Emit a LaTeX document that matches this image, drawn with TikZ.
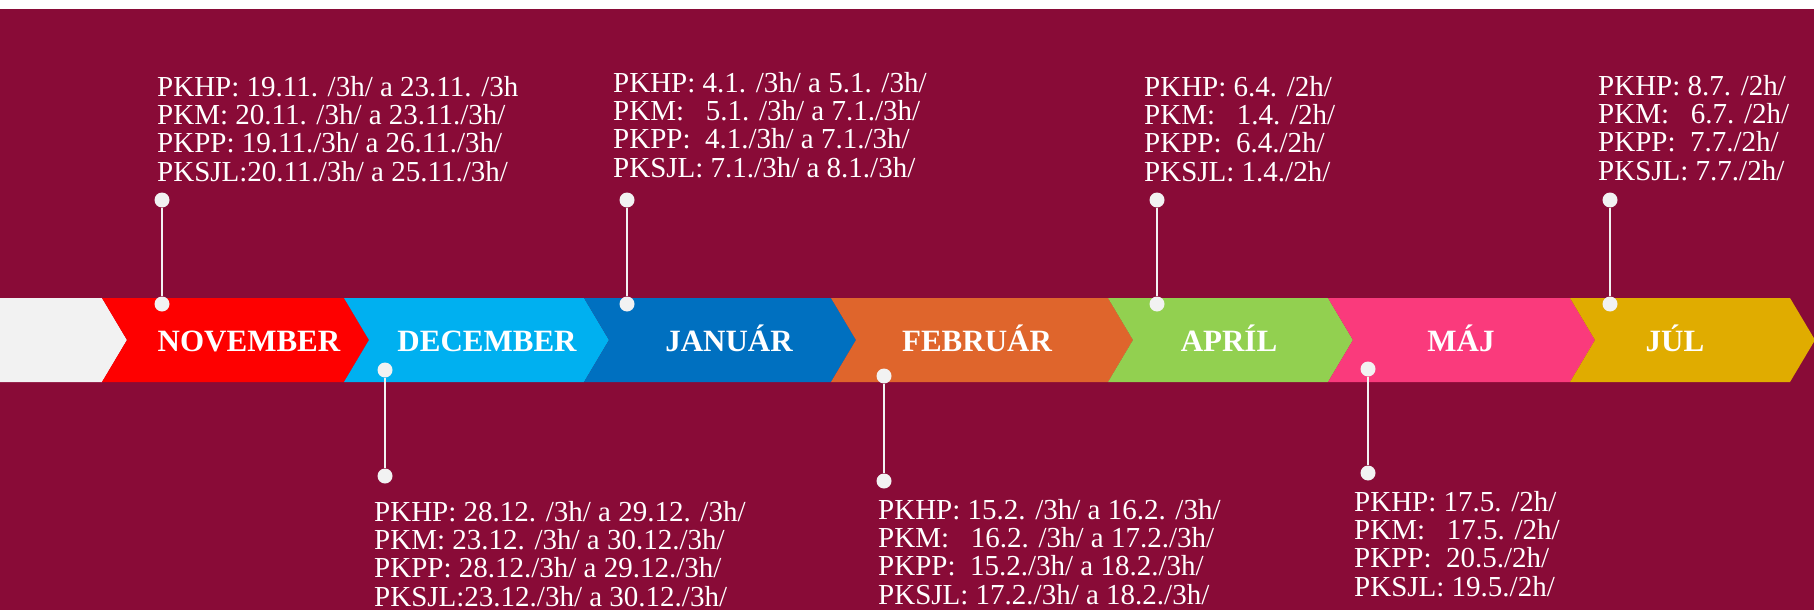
\documentclass[tikz,border=0pt]{standalone}
\usepackage{fontspec}
\setmainfont{Liberation Serif}
\definecolor{bgred}{HTML}{890B37}
\definecolor{cgrey}{HTML}{F2F2F2}
\definecolor{cnov}{HTML}{FE0000}
\definecolor{cdec}{HTML}{00B0F0}
\definecolor{cjan}{HTML}{0070C0}
\definecolor{cfeb}{HTML}{DF652C}
\definecolor{capr}{HTML}{92D050}
\definecolor{cmaj}{HTML}{FA3A7C}
\definecolor{cjul}{HTML}{E0AC00}
\begin{document}
\begin{tikzpicture}[x=1pt,y=-1pt,
  info/.style={anchor=base west,inner sep=0pt,align=left,text=white,font=\fontsize{29}{28.3}\selectfont},
  month/.style={anchor=base,inner sep=0pt,text=white,font=\fontsize{31}{31}\selectfont\bfseries},
  pin/.style={circle,fill=cgrey,inner sep=0pt,minimum size=15pt},
  stick/.style={draw=cgrey,line width=1.6pt}]
\useasboundingbox (0,0) rectangle (1814,610);
\fill[white] (0,0) rectangle (1814,9);
\fill[bgred] (0,9) rectangle (1814,610);
\fill[cgrey] (0,298) -- (102,298) -- (127,340) -- (102,382) -- (0,382) -- cycle;
\fill[cnov] (102,298) -- (344,298) -- (369,340) -- (344,382) -- (102,382) -- (127,340) -- cycle;
\fill[cdec] (344,298) -- (584,298) -- (609,340) -- (584,382) -- (344,382) -- (369,340) -- cycle;
\fill[cjan] (584,298) -- (831,298) -- (856,340) -- (831,382) -- (584,382) -- (609,340) -- cycle;
\fill[cfeb] (831,298) -- (1108,298) -- (1133,340) -- (1108,382) -- (831,382) -- (856,340) -- cycle;
\fill[capr] (1108,298) -- (1328,298) -- (1353,340) -- (1328,382) -- (1108,382) -- (1133,340) -- cycle;
\fill[cmaj] (1328,298) -- (1570,298) -- (1595,340) -- (1570,382) -- (1328,382) -- (1353,340) -- cycle;
\fill[cjul] (1570,298) -- (1790,298) -- (1815,340) -- (1790,382) -- (1570,382) -- (1595,340) -- cycle;
\node[month] (nov) at (249,351) {NOVEMBER};
\node[month] (dec) at (487,351) {DECEMBER};
\node[month] (jan) at (729,351) {JANUÁR};
\node[month] (feb) at (977,351) {FEBRUÁR};
\node[month] (apr) at (1229,351) {APRÍL};
\node[month] (maj) at (1461,351) {MÁJ};
\node[month] (jul) at (1675,351) {JÚL};
\node[info] (novinfo) at (157,181) {PKHP: 19.11. /3h/ a 23.11. /3h\\PKM: 20.11. /3h/ a 23.11./3h/\\PKPP: 19.11./3h/ a 26.11./3h/\\PKSJL:20.11./3h/ a 25.11./3h/};
\node[info] (decinfo) at (374,606) {PKHP: 28.12. /3h/ a 29.12. /3h/\\PKM: 23.12. /3h/ a 30.12./3h/\\PKPP: 28.12./3h/ a 29.12./3h/\\PKSJL:23.12./3h/ a 30.12./3h/};
\node[info] (janinfo) at (613,177) {PKHP: 4.1. /3h/ a 5.1. /3h/\\PKM:\ \ \ 5.1. /3h/ a 7.1./3h/\\PKPP:\ \ 4.1./3h/ a 7.1./3h/\\PKSJL: 7.1./3h/ a 8.1./3h/};
\node[info] (febinfo) at (878,604) {PKHP: 15.2. /3h/ a 16.2. /3h/\\PKM:\ \ \ 16.2. /3h/ a 17.2./3h/\\PKPP:\ \ 15.2./3h/ a 18.2./3h/\\PKSJL: 17.2./3h/ a 18.2./3h/};
\node[info] (aprinfo) at (1144,181) {PKHP: 6.4. /2h/\\PKM:\ \ \ 1.4. /2h/\\PKPP:\ \ 6.4./2h/\\PKSJL: 1.4./2h/};
\node[info] (majinfo) at (1354,596) {PKHP: 17.5. /2h/\\PKM:\ \ \ 17.5. /2h/\\PKPP:\ \ 20.5./2h/\\PKSJL: 19.5./2h/};
\node[info] (julinfo) at (1598,180) {PKHP: 8.7. /2h/\\PKM:\ \ \ 6.7. /2h/\\PKPP:\ \ 7.7./2h/\\PKSJL: 7.7./2h/};
\node[pin] (novtop) at (162,200) {};
\node[pin] (novbot) at (162,304) {};
\node[pin] (dectop) at (385,370) {};
\node[pin] (decbot) at (385,476) {};
\node[pin] (jantop) at (627,200) {};
\node[pin] (janbot) at (627,304) {};
\node[pin] (febtop) at (884,376) {};
\node[pin] (febbot) at (884,481) {};
\node[pin] (aprtop) at (1157,200) {};
\node[pin] (aprbot) at (1157,304) {};
\node[pin] (majtop) at (1368,369) {};
\node[pin] (majbot) at (1368,473) {};
\node[pin] (jultop) at (1610,200) {};
\node[pin] (julbot) at (1610,304) {};
\path[stick] (novtop) -- (novbot);
\path[stick] (dectop) -- (decbot);
\path[stick] (jantop) -- (janbot);
\path[stick] (febtop) -- (febbot);
\path[stick] (aprtop) -- (aprbot);
\path[stick] (majtop) -- (majbot);
\path[stick] (jultop) -- (julbot);
\end{tikzpicture}
\end{document}
